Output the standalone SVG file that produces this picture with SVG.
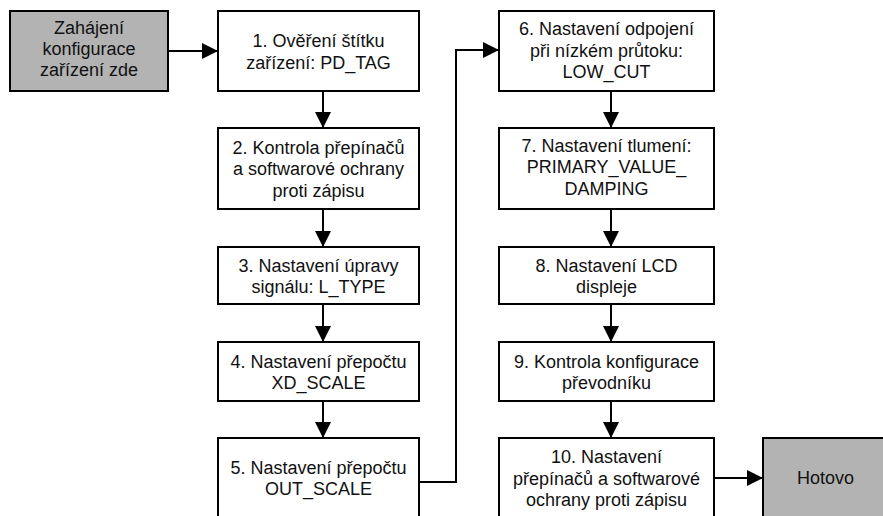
<svg xmlns="http://www.w3.org/2000/svg" width="883" height="516" viewBox="0 0 883 516">
<defs>
<style>
.box{fill:#fff;stroke:#000;stroke-width:2}
.term{fill:#b3b3b3;stroke:#000;stroke-width:2}
.t{font-family:"Liberation Sans",Arial,sans-serif;font-size:18px;fill:#111;text-anchor:middle}
.c{fill:none;stroke:#000;stroke-width:2}
</style>
<marker id="ah" markerUnits="userSpaceOnUse" markerWidth="16" markerHeight="16" viewBox="0 0 15 15" refX="15" refY="7.5" orient="auto">
<path d="M0,0 L15,7.5 L0,15 z" fill="#000"/>
</marker>
</defs>
<rect width="883" height="516" fill="#fff"/>
<g id="connectors">
<path class="c" d="M168,51 H218" marker-end="url(#ah)"/>
<path class="c" d="M323,91 V128" marker-end="url(#ah)"/>
<path class="c" d="M323,209 V247" marker-end="url(#ah)"/>
<path class="c" d="M323,304 V342" marker-end="url(#ah)"/>
<path class="c" d="M323,401 V438" marker-end="url(#ah)"/>
<path class="c" d="M419,482 H456 V50 H499" marker-end="url(#ah)"/>
<path class="c" d="M611,91 V128" marker-end="url(#ah)"/>
<path class="c" d="M611,209 V247" marker-end="url(#ah)"/>
<path class="c" d="M611,304 V342" marker-end="url(#ah)"/>
<path class="c" d="M611,401 V438" marker-end="url(#ah)"/>
<path class="c" d="M714,478 H763" marker-end="url(#ah)"/>
</g>
<g id="start">
<rect class="term" x="10" y="11" width="158" height="80"/>
<text class="t" x="89" y="34">Zahájení</text>
<text class="t" x="89" y="55">konfigurace</text>
<text class="t" x="89" y="76">zařízení zde</text>
</g>
<g id="step1">
<rect class="box" x="218" y="11" width="201" height="80"/>
<text class="t" x="318.5" y="47">1. Ověření štítku</text>
<text class="t" x="318.5" y="68.5">zařízení: PD_TAG</text>
</g>
<g id="step2">
<rect class="box" x="218" y="128" width="201" height="81"/>
<text class="t" x="318.5" y="153.5">2. Kontrola přepínačů</text>
<text class="t" x="318.5" y="175">a softwarové ochrany</text>
<text class="t" x="318.5" y="196.5">proti zápisu</text>
</g>
<g id="step3">
<rect class="box" x="218" y="247" width="201" height="57"/>
<text class="t" x="318.5" y="271.5">3. Nastavení úpravy</text>
<text class="t" x="318.5" y="293">signálu: L_TYPE</text>
</g>
<g id="step4">
<rect class="box" x="218" y="342" width="201" height="59"/>
<text class="t" x="318.5" y="367.5">4. Nastavení přepočtu</text>
<text class="t" x="318.5" y="389">XD_SCALE</text>
</g>
<g id="step5">
<rect class="box" x="218" y="438" width="201" height="82"/>
<text class="t" x="318.5" y="473.5">5. Nastavení přepočtu</text>
<text class="t" x="318.5" y="495">OUT_SCALE</text>
</g>
<g id="step6">
<rect class="box" x="499" y="11" width="215" height="80"/>
<text class="t" x="606.5" y="35">6. Nastavení odpojení</text>
<text class="t" x="606.5" y="56.5">při nízkém průtoku:</text>
<text class="t" x="606.5" y="78">LOW_CUT</text>
</g>
<g id="step7">
<rect class="box" x="499" y="128" width="215" height="81"/>
<text class="t" x="606.5" y="151.5">7. Nastavení tlumení:</text>
<text class="t" x="606.5" y="173">PRIMARY_VALUE_</text>
<text class="t" x="606.5" y="194.5">DAMPING</text>
</g>
<g id="step8">
<rect class="box" x="499" y="247" width="215" height="57"/>
<text class="t" x="606.5" y="271.5">8. Nastavení LCD</text>
<text class="t" x="606.5" y="293">displeje</text>
</g>
<g id="step9">
<rect class="box" x="499" y="342" width="215" height="59"/>
<text class="t" x="606.5" y="367.5">9. Kontrola konfigurace</text>
<text class="t" x="606.5" y="389">převodníku</text>
</g>
<g id="step10">
<rect class="box" x="499" y="438" width="215" height="82"/>
<text class="t" x="606.5" y="463">10. Nastavení</text>
<text class="t" x="606.5" y="484.5">přepínačů a softwarové</text>
<text class="t" x="606.5" y="506">ochrany proti zápisu</text>
</g>
<g id="done">
<rect class="term" x="763" y="438" width="125" height="82"/>
<text class="t" x="825.5" y="484">Hotovo</text>
</g>
</svg>
